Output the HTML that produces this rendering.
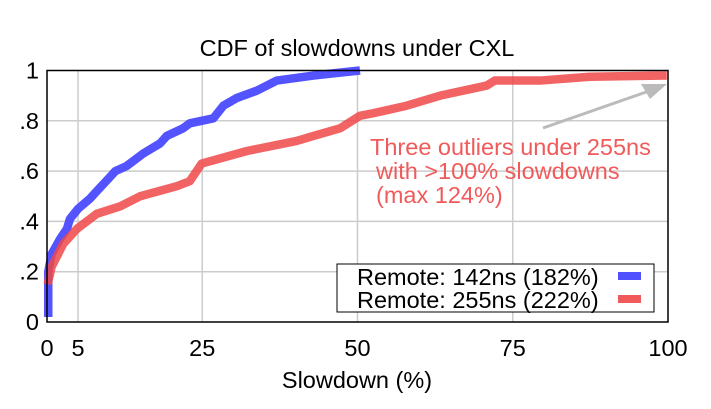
<!DOCTYPE html>
<html><head><meta charset="utf-8"><style>
body{margin:0;background:#fff}
svg{display:block;font-family:"Liberation Sans",sans-serif}
</style></head><body>
<svg id="chart" width="711" height="409">
<text x="357" y="56" text-anchor="middle" font-size="23.5">CDF of slowdowns under CXL</text>
<g id="grid"></g>
<g id="series"></g>
<line x1="543" y1="128" x2="652" y2="90" stroke="#bbb" stroke-width="3"/>
<polygon points="667,84 641,84 650,99" fill="#bbb"/>
<g fill="#f05a5a" font-size="23.5">
<text x="370" y="155">Three outliers under 255ns</text>
<text x="376" y="179">with &gt;100% slowdowns</text>
<text x="376" y="203">(max 124%)</text>
</g>
<rect x="47" y="70.5" width="621" height="251.5" fill="none" stroke="#000" stroke-width="1.5"/>
<g>
<rect x="337" y="264" width="317" height="48" fill="#fff" stroke="#000" stroke-width="1"/>
<text x="357" y="285" font-size="23.5">Remote: 142ns (182%)</text>
<rect x="618" y="272" width="23" height="8" fill="#5050ff"/>
<text x="357" y="308" font-size="23.5">Remote: 255ns (222%)</text>
<rect x="618" y="295" width="23" height="8" fill="#f05a5a"/>
</g>
<g id="labels" font-size="23.5"></g>
<text x="357" y="388" text-anchor="middle" font-size="23.5">Slowdown (%)</text>
</svg>
<script>
const xTicks=[0,5,25,50,75,100];
const xTickLabels=["0","5","25","50","75","100"];
const yTicks=[0,0.2,0.4,0.6,0.8,1];
const yTickLabels=["0",".2",".4",".6",".8","1"];
const blueX=[0.2,0.2,0.75,2.1,3.2,3.7,5.0,6.9,8.0,9.9,11,12.8,15.5,18.2,19.3,21.9,23,26.8,28.4,30.5,33.8,37,42.9,46.6,50.4];
const blueY=[0.02,0.2,0.27,0.33,0.37,0.41,0.45,0.49,0.52,0.57,0.60,0.62,0.67,0.71,0.74,0.77,0.79,0.81,0.86,0.89,0.92,0.96,0.98,0.99,1.0];
const redX=[0.1,0.75,2.6,4.8,8,11.8,15,20.9,23,24.9,32.2,40.2,42.9,47.2,50.4,52.5,57.9,63.3,70.8,72.1,79.4,87.4,99.8];
const redY=[0.15,0.22,0.31,0.37,0.43,0.46,0.50,0.54,0.56,0.63,0.68,0.72,0.74,0.77,0.82,0.83,0.86,0.90,0.94,0.96,0.96,0.975,0.98];
const NS="http://www.w3.org/2000/svg";
const sx=v=>47+v*6.21, sy=v=>322-v*251.5;
function mk(t,a,p){const e=document.createElementNS(NS,t);for(const k in a)e.setAttribute(k,a[k]);p.appendChild(e);return e;}
const grid=document.getElementById('grid'),labels=document.getElementById('labels'),series=document.getElementById('series');
xTicks.forEach((v,i)=>{
 if(v>0&&v<100){const l=mk('line',{x1:sx(v),x2:sx(v),y1:sy(0),y2:sy(1),stroke:'#ccc','stroke-width':1.5},grid);
 
 }
 const t=mk('text',{x:sx(v),y:356,'text-anchor':'middle'},labels);t.textContent=xTickLabels[i];
 
 
});
yTicks.forEach((v,i)=>{
 if(v>0&&v<1){const l=mk('line',{x1:sx(0),x2:sx(100),y1:sy(v),y2:sy(v),stroke:'#ccc','stroke-width':1.5},grid);
 
 }
 const t=mk('text',{x:39,y:sy(v)+8,'text-anchor':'end'},labels);t.textContent=yTickLabels[i];
 
 
});
function line(xs,ys,col,op,name){
 const p=mk('polyline',{points:xs.map((x,i)=>sx(x)+','+sy(ys[i])).join(' '),fill:'none',stroke:col,'stroke-width':8.5,'stroke-opacity':op,'stroke-linejoin':'round'},series);
 
 
}
line(blueX,blueY,'#4a4aff',0.95,'series-142ns');
line(redX,redY,'#f04848',0.85,'series-255ns');
</script>
</body></html>
